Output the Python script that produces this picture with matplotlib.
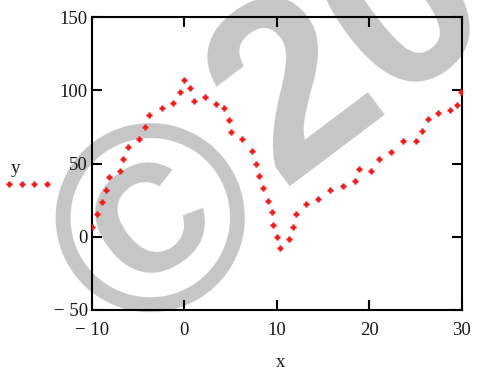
import matplotlib
matplotlib.use("Agg")
import matplotlib.pyplot as plt
from matplotlib.lines import Line2D

x_vals = [-10.0, -9.4, -8.9, -8.5, -8.1, -7.0, -6.6, -6.1, -4.9, -4.3,
          -3.8, -2.4, -1.2, -0.5, 0.0, 0.6, 1.1, 2.2, 3.4, 4.3,
          4.8, 5.1, 6.2, 7.3, 7.8, 8.1, 8.5, 9.1, 9.5, 9.6,
          10.0, 10.3, 11.3, 11.7, 12.1, 13.2, 14.5, 15.8, 17.2, 18.4,
          18.9, 20.2, 21.0, 22.3, 23.6, 25.0, 25.7, 26.3, 27.4, 28.7,
          29.5, 29.9]
y_vals = [6.9, 15.6, 23.8, 32.0, 40.7, 45.2, 53.4, 61.6, 66.6, 74.8,
          83.4, 88.0, 91.6, 98.8, 107.2, 101.4, 92.9, 95.7, 90.6, 87.8,
          79.8, 71.4, 66.8, 58.3, 50.0, 41.6, 33.2, 24.8, 16.8, 8.3,
          -0.1, -7.4, -1.3, 6.9, 15.4, 22.4, 26.0, 32.0, 34.5, 38.1,
          46.3, 45.2, 53.4, 58.2, 65.5, 65.5, 72.3, 80.7, 84.6, 86.7,
          90.3, 98.8]

x_ticks = [-10, 0, 10, 20, 30]
x_tick_labels = ["\u2212 10", "0", "10", "20", "30"]
y_ticks = [-50, 0, 50, 100, 150]
y_tick_labels = ["\u2212 50", "0", "50", "100", "150"]

red = "#ee1c1c"
ink = "#1a1a1a"
grey = "#c6c6c6"
serif = ["Liberation Serif", "DejaVu Serif"]

fig = plt.figure(figsize=(4.79, 3.70), dpi=100)
ax = fig.add_axes([0.1917, 0.1622, 0.7724, 0.7911])
ax.set_facecolor("none")

ax.plot(x_vals, y_vals, linestyle="none", marker="+", markersize=5,
        markeredgewidth=1.8, color=red, zorder=3)

ax.set_xlim(-10, 30)
ax.set_ylim(-50, 150)
ax.set_xticks(x_ticks)
ax.set_xticklabels(x_tick_labels)
ax.set_yticks(y_ticks)
ax.set_yticklabels(y_tick_labels)
ax.tick_params(direction="in", length=7, width=1.5, color="black",
               top=True, right=True, labelsize=13.5, labelcolor=ink)
ax.tick_params(axis="x", pad=9)
ax.tick_params(axis="y", pad=3)
for lab in ax.get_xticklabels() + ax.get_yticklabels():
    lab.set_family(serif)
for sp in ax.spines.values():
    sp.set_linewidth(1.5)
    sp.set_color("black")

ax.set_xlabel("x", family=serif, fontsize=13.5, color=ink)
ax.xaxis.set_label_coords(0.51, -0.15)
ax.set_ylabel("y", family=serif, fontsize=14, color=ink, rotation=0,
              ha="center", va="center")
ax.yaxis.set_label_coords(-0.205, 0.485)

# Mathcad style trace sample under the y label
sample = Line2D([], [], linestyle="none", marker="+", markersize=5,
                markeredgewidth=1.8, color=red)
leg = ax.legend([sample], [""], numpoints=4, frameon=False,
                handlelength=2.6, handletextpad=0, borderpad=0,
                borderaxespad=0, fontsize=13.5,
                loc="center left", bbox_to_anchor=(-0.238, 0.428))

# grey watermark behind everything
ax.text(0.2647, 0.0576, "\u00a9", transform=fig.transFigure,
        family="Liberation Sans", weight="bold", fontsize=193,
        color=grey, rotation=37, rotation_mode="anchor",
        ha="left", va="baseline", zorder=0, clip_on=False)
ax.text(0.5866, 0.4959, "20", transform=fig.transFigure,
        family="Liberation Sans", weight="bold", fontsize=178,
        color=grey, rotation=37, rotation_mode="anchor",
        ha="left", va="baseline", zorder=0, clip_on=False)

fig.savefig("out.png", dpi=100)
